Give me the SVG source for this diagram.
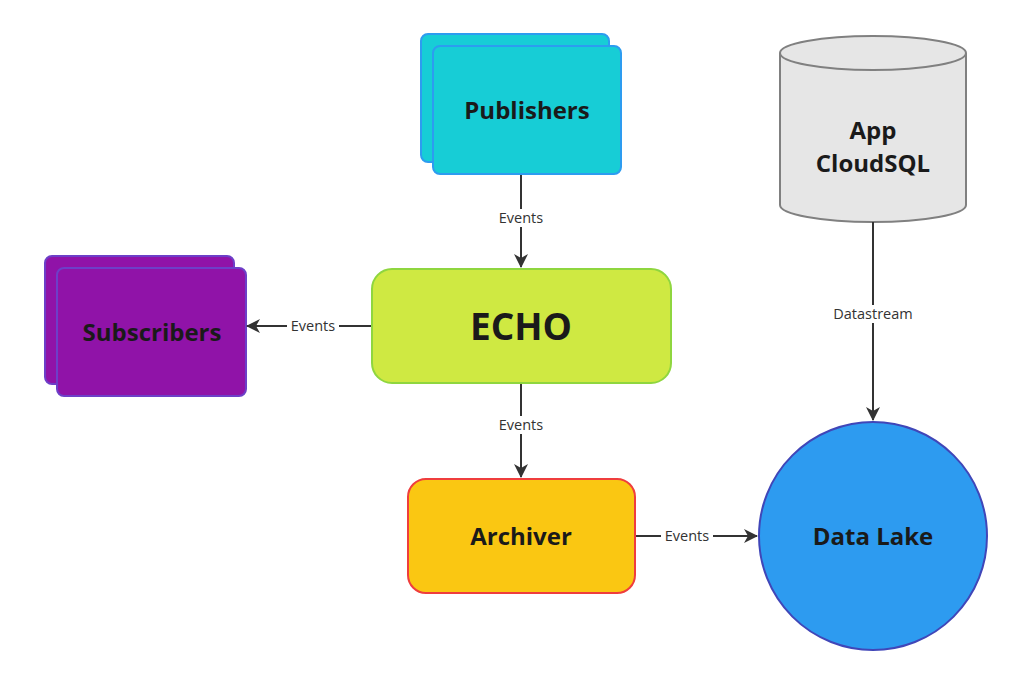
<svg xmlns="http://www.w3.org/2000/svg" width="1013" height="676" viewBox="0 0 1013 676">
<style>
.t{font-family:"Open Sans","Noto Sans",sans-serif;font-weight:bold;fill:#1a1a1a;text-anchor:middle}
.l{font-family:"Open Sans","Noto Sans",sans-serif;font-size:14.5px;fill:#333;text-anchor:middle}
.c{stroke:#333;stroke-width:2;fill:none}
.lb{fill:#fff}
</style>
<defs><marker id="a" markerWidth="14" markerHeight="14" refX="13" refY="7" orient="auto" markerUnits="userSpaceOnUse"><path d="M0,0 L14,7 L0,14 L4,7 z" fill="#333"/></marker></defs>
<rect width="1013" height="676" fill="#fff"/>
<g id="publishers">
<rect x="421" y="34" width="188" height="128" rx="7" fill="#17cdd6" stroke="#2d9cf0" stroke-width="2"/>
<rect x="433" y="46" width="188" height="128" rx="7" fill="#17cdd6" stroke="#2d9cf0" stroke-width="2"/>
<text class="t" x="527" y="119" font-size="24">Publishers</text>
</g>
<g id="subscribers">
<rect x="45" y="256" width="189" height="128" rx="7" fill="#9013a8" stroke="#6d3fc8" stroke-width="2"/>
<rect x="57" y="268" width="189" height="128" rx="7" fill="#9013a8" stroke="#6d3fc8" stroke-width="2"/>
<text class="t" x="152" y="341" font-size="24">Subscribers</text>
</g>
<g id="echo">
<rect x="372" y="269" width="299" height="114" rx="20" fill="#cfe942" stroke="#8fd63f" stroke-width="2"/>
<text class="t" x="521" y="340" font-size="37">ECHO</text>
</g>
<g id="archiver">
<rect x="408" y="479" width="227" height="114" rx="18" fill="#fac712" stroke="#ef3d3d" stroke-width="2"/>
<text class="t" x="521" y="545" font-size="24">Archiver</text>
</g>
<g id="cloudsql">
<path d="M780,53 V205 A93,17 0 0 0 966,205 V53" fill="#e6e6e6" stroke="#808080" stroke-width="2"/>
<ellipse cx="873" cy="53" rx="93" ry="17" fill="#e6e6e6" stroke="#808080" stroke-width="2"/>
<text class="t" x="873" y="139" font-size="24">App</text>
<text class="t" x="873" y="172" font-size="24">CloudSQL</text>
</g>
<g id="datalake">
<circle cx="873" cy="536" r="114" fill="#2d9bf0" stroke="#4046b8" stroke-width="2"/>
<text class="t" x="873" y="545" font-size="24">Data Lake</text>
</g>
<g id="connectors">
<path class="c" d="M521,175 V267" marker-end="url(#a)"/>
<rect class="lb" x="496" y="209" width="50" height="18"/><text class="l" x="521" y="223">Events</text>
<path class="c" d="M371,326 H247" marker-end="url(#a)"/>
<rect class="lb" x="287" y="317" width="52" height="18"/><text class="l" x="313" y="331">Events</text>
<path class="c" d="M521,384 V477" marker-end="url(#a)"/>
<rect class="lb" x="496" y="416" width="50" height="18"/><text class="l" x="521" y="430">Events</text>
<path class="c" d="M636,536 H757" marker-end="url(#a)"/>
<rect class="lb" x="661" y="527" width="52" height="18"/><text class="l" x="687" y="541">Events</text>
<path class="c" d="M873,222 V420" marker-end="url(#a)"/>
<rect class="lb" x="832" y="305" width="82" height="18"/><text class="l" x="873" y="319">Datastream</text>
</g>
</svg>
